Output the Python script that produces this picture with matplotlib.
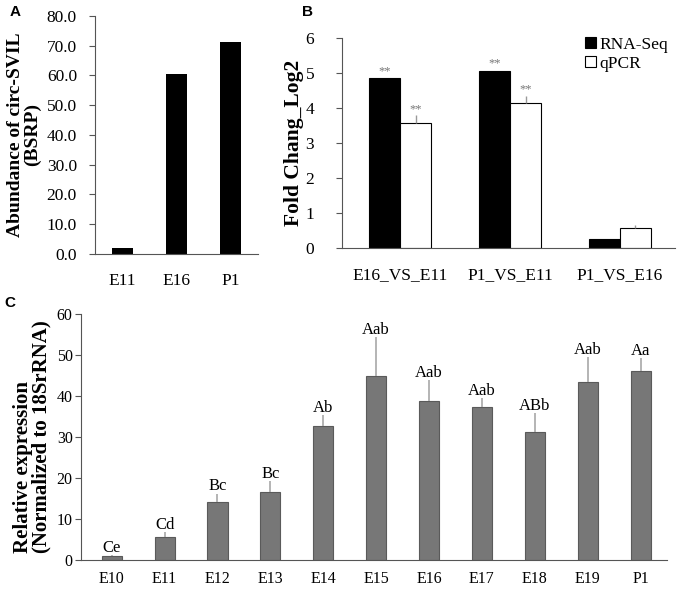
import matplotlib.pyplot as plt
import numpy as np

plt.rcParams['font.family'] = ['Liberation Serif', 'DejaVu Serif']

# panel A
a_cats = ['E11', 'E16', 'P1']
a_vals = [2.0, 60.6, 71.4]

# panel B
b_cats = ['E16_VS_E11', 'P1_VS_E11', 'P1_VS_E16']
rnaseq = [4.85, 5.07, 0.25]
qpcr = [3.58, 4.15, 0.58]
qpcr_err = [0.22, 0.20, 0.08]
b_marks = ['**', '**', '']

# panel C
c_cats = ['E10', 'E11', 'E12', 'E13', 'E14', 'E15', 'E16', 'E17', 'E18', 'E19', 'P1']
c_vals = [0.9, 5.6, 14.1, 16.6, 32.7, 44.9, 38.9, 37.2, 31.1, 43.3, 46.1]
c_err = [0.3, 1.3, 2.1, 2.6, 2.7, 9.4, 5.0, 2.3, 4.7, 6.1, 3.1]
c_labels = ['Ce', 'Cd', 'Bc', 'Bc', 'Ab', 'Aab', 'Aab', 'Aab', 'ABb', 'Aab', 'Aa']

W, H = 678, 594
fig = plt.figure(figsize=(W / 100, H / 100), dpi=100)


def frac(l, t, r, b):
    return [l / W, 1 - b / H, (r - l) / W, (b - t) / H]


def style(ax, tsize, ypad, xpad):
    for s in ['top', 'right']:
        ax.spines[s].set_visible(False)
    ax.spines['left'].set_color('#555555')
    ax.spines['bottom'].set_color('#555555')
    ax.tick_params(axis='y', direction='out', length=4, color='#555555',
                   labelsize=tsize, pad=ypad)
    ax.tick_params(axis='x', length=0, labelsize=tsize, pad=xpad)


# A
ax = fig.add_axes(frac(95, 16, 258, 254))
xa = np.arange(len(a_vals))
ax.bar(xa, a_vals, width=0.39, color='black')
ax.set_ylim(0, 80)
ax.set_yticks(np.arange(0, 81, 10))
ax.set_yticklabels(['%.1f' % v for v in np.arange(0, 81, 10)])
ax.set_xticks(xa)
ax.set_xticklabels(a_cats)
ax.set_xlim(-0.506, 2.5)
style(ax, 12.5, 9, 14)
ax.set_ylabel('Abundance of circ-SVIL\n(BSRP)', fontsize=14, fontweight='bold',
              linespacing=0.95, labelpad=4)

# B
ax = fig.add_axes(frac(342, 38, 675, 248))
xb = np.arange(len(rnaseq))
bw = 0.28
ax.bar(xb - bw / 2, rnaseq, width=bw, color='black', edgecolor='black',
       linewidth=0.8, label='RNA-Seq')
ax.bar(xb + bw / 2, qpcr, width=bw, color='white', edgecolor='black',
       linewidth=0.8, label='qPCR')
ax.errorbar(xb + bw / 2, qpcr, yerr=[np.zeros(3), qpcr_err], fmt='none',
            ecolor='#999999', elinewidth=1, capsize=0)
for i in range(len(rnaseq)):
    if b_marks[i]:
        ax.text(xb[i] - bw / 2, rnaseq[i] + 0.03, b_marks[i], ha='center',
                va='bottom', fontsize=9, color='#777777')
        ax.text(xb[i] + bw / 2, qpcr[i] + qpcr_err[i] + 0.0, b_marks[i],
                ha='center', va='bottom', fontsize=9, color='#777777')
ax.set_ylim(0, 6)
ax.set_yticks(range(7))
ax.set_xticks(xb)
ax.set_xticklabels(b_cats)
ax.set_xlim(-0.53, 2.5)
style(ax, 12.5, 16, 14)
ax.set_ylabel('Fold Chang_Log2', fontsize=15.5, fontweight='bold', labelpad=1)
ax.legend(loc='upper right', bbox_to_anchor=(1.0, 1.04), frameon=False,
          fontsize=12.5, handlelength=0.6, handleheight=0.6, handletextpad=0.2,
          labelspacing=0.2, borderaxespad=0)

# C
ax = fig.add_axes(frac(81, 314, 667, 560))
xc = np.arange(len(c_vals))
ax.bar(xc, c_vals, width=0.38, color='#777777', edgecolor='#5a5a5a', linewidth=0.8)
ax.errorbar(xc, c_vals, yerr=[np.zeros(len(c_vals)), c_err], fmt='none',
            ecolor='#a8a8a8', elinewidth=1.2, capsize=0)
for i in range(len(c_vals)):
    ax.text(xc[i], c_vals[i] + c_err[i] - 0.2, c_labels[i], ha='center',
            va='bottom', fontsize=12)
ax.set_ylim(0, 60)
ax.set_yticks(range(0, 61, 10))
ax.set_xticks(xc)
ax.set_xticklabels(c_cats)
ax.set_xlim(-0.58, 10.5)
style(ax, 11.5, 2, 8)
ax.set_ylabel('Relative expression\n(Normalized to 18SrRNA)', fontsize=15,
              fontweight='bold', linespacing=0.9, labelpad=4,
              multialignment='left')

for lab, x, y in [('A', 10, 12), ('B', 302, 12), ('C', 4, 303)]:
    fig.text(x / W, 1 - y / H, lab, fontsize=11, fontweight='bold',
             family=['Liberation Sans', 'DejaVu Sans'], va='center', ha='left')

fig.savefig('out.png', dpi=100)
